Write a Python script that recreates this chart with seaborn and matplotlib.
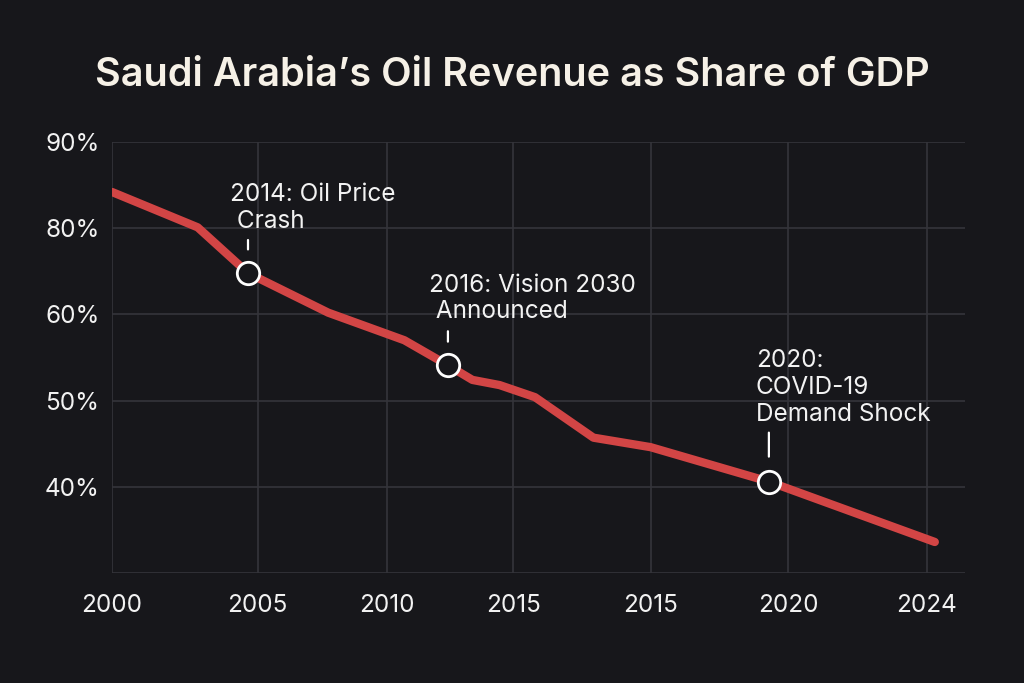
import matplotlib
matplotlib.use("Agg")
import matplotlib.pyplot as plt
import seaborn as sns
import pandas as pd

# values (x in grid steps from the left edge, y in grid levels)
x_pos = [0.0, 0.63, 1.0, 1.59, 2.15, 2.47, 2.65, 2.85, 3.11, 3.54, 3.96, 4.83, 6.05]
y_level = [4.42, 4.01, 3.48, 3.02, 2.70, 2.41, 2.24, 2.18, 2.04, 1.57, 1.46, 1.06, 0.36]

x_tick_labels = ["2000", "2005", "2010", "2015", "2015", "2020", "2024"]
y_tick_labels = ["", "40%", "50%", "60%", "80%", "90%"]

event_idx = [2, 5, 11]
event_text = ["2014: Oil Price\n Crash", "2016: Vision 2030\n Announced", "2020:\nCOVID-19\nDemand Shock"]

BG = "#17171b"
GRID = "#34353b"
LINE = "#d24545"
TEXT = "#f2f2f2"

sns.set_theme(style="dark")
plt.rcParams["font.family"] = ["Inter", "DejaVu Sans"]

df = pd.DataFrame({"x": x_pos, "y": y_level})

fig = plt.figure(figsize=(10.24, 6.83), dpi=100, facecolor=BG)
ax = fig.add_axes([112 / 1024, 1 - 573 / 683, 853 / 1024, 431 / 683])
ax.set_facecolor(BG)

sns.lineplot(data=df, x="x", y="y", ax=ax, color=LINE, linewidth=6,
             solid_capstyle="round", solid_joinstyle="round", zorder=3)

ev = df.iloc[event_idx]
ax.scatter(ev["x"], ev["y"], s=260, facecolor=BG, edgecolor="white",
           linewidth=2, zorder=5)

offsets = [(-18, 40, 17, 33), (-19, 42, 17, 34), (-13, 56, 18, 49)]
for (i, txt), (dx, dy, l0, l1) in zip(zip(event_idx, event_text), offsets):
    xv, yv = x_pos[i], y_level[i]
    ax.annotate("", xy=(xv, yv), xytext=(0, l1), textcoords="offset pixels",
                xycoords="data",
                arrowprops=dict(arrowstyle="-", color="white", lw=1.6,
                                shrinkA=0, shrinkB=l0))
    ax.annotate(txt, xy=(xv, yv), xytext=(dx, dy), textcoords="offset pixels",
                ha="left", va="bottom", color=TEXT, fontsize=17.5,
                linespacing=1.2, zorder=6)

xticks = [0, 1.07, 2.02, 2.95, 3.96, 4.97, 5.99]
ax.set_xticks(xticks)
ax.set_xticklabels(x_tick_labels)
ax.set_yticks(range(len(y_tick_labels)))
ax.set_yticklabels(y_tick_labels)
ax.set_xlim(0, 853 / 136)
ax.set_ylim(0, 5)
ax.set_xlabel("")
ax.set_ylabel("")

ax.grid(True, color=GRID, linewidth=1.2)
ax.tick_params(axis="both", length=0, colors=TEXT, labelsize=17.5)
ax.tick_params(axis="x", pad=15)
ax.tick_params(axis="y", pad=9)
for s in ax.spines.values():
    s.set_visible(False)

fig.text(0.5, 1 - 75 / 683, "Saudi Arabia\u2019s Oil Revenue as Share of GDP",
         ha="center", va="center", color="#f6f1e7", fontsize=28.5,
         fontweight="semibold")

fig.savefig("out.png", dpi=100, facecolor=BG)
